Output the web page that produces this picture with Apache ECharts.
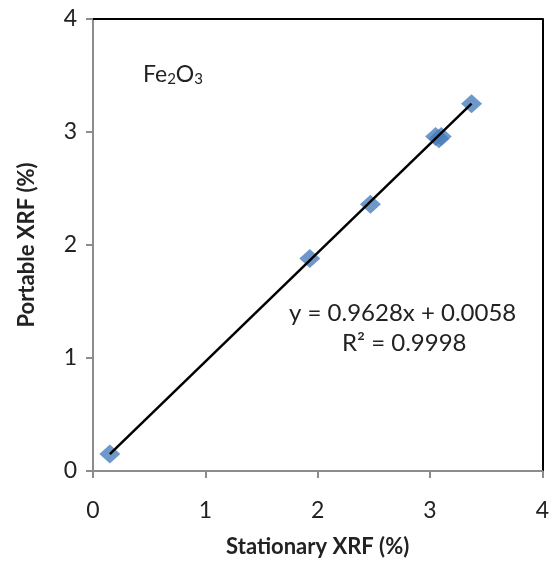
<!DOCTYPE html>
<html><head><meta charset="utf-8">
<script src="https://cdn.jsdelivr.net/npm/echarts@6/dist/echarts.min.js"></script>
<style>html,body{margin:0;padding:0;background:#fff}#c{width:552px;height:566px}</style>
</head><body><div id="c"></div>
<script>
const stationary = [0.15, 1.93, 2.47, 3.05, 3.10, 3.08, 3.37];
const portable   = [0.15, 1.88, 2.36, 2.96, 2.96, 2.94, 3.25];
const slope = 0.9628, intercept = 0.0058;
const trendX = [0.15, 3.37];
const xTicks = [0, 1, 2, 3, 4];
const yTicks = [0, 1, 2, 3, 4];

const font = 'Lato, "Open Sans", sans-serif';
const chart = echarts.init(document.getElementById('c'));
chart.setOption({
  animation: false,
  grid: {left: 93, right: 2, top: 19, bottom: 95},
  title: {
    text: '{n|Fe}{s|2}{n|O}{s|3}',
    left: 138, top: 58,
    textStyle: {fontWeight: 'normal', rich: {
      n: {fontFamily: font, fontSize: 23, fontWeight: 'normal', color: '#222'},
      s: {fontFamily: font, fontSize: 15, fontWeight: 'normal', color: '#222', verticalAlign: 'bottom', padding: [9,0,0,0]}
    }}
  },
  graphic: [
    {type: 'text', left: 289, top: 301, style: {text: 'y = 0.9628x + 0.0058', font: '24px ' + font, fill: '#222'}},
    {type: 'text', left: 342, top: 331, style: {text: 'R² = 0.9998', font: '24px ' + font, fill: '#222'}}
  ],
  xAxis: [{
    type: 'value', min: 0, max: 4, interval: 1,
    name: 'Stationary XRF (%)', nameLocation: 'middle', nameGap: 65,
    nameTextStyle: {fontFamily: font, fontSize: 22, fontWeight: 'bold', color: '#222'},
    axisLine: {onZero: false, lineStyle: {color: '#8c8c8c', width: 2}},
    axisTick: {show: true, length: 7, lineStyle: {color: '#8c8c8c', width: 2}},
    axisLabel: {fontFamily: font, fontSize: 23, color: '#222', margin: 28, showMaxLabel: true,
      formatter: v => xTicks.includes(v) ? String(v) : ''},
    splitLine: {show: false}
  }, {
    type: 'value', position: 'top', min: 0, max: 4,
    axisLine: {show: true, onZero: false, lineStyle: {color: '#000', width: 2}},
    axisTick: {show: false}, axisLabel: {show: false}, splitLine: {show: false}
  }],
  yAxis: [{
    type: 'value', min: 0, max: 4, interval: 1,
    name: 'Portable XRF (%)', nameLocation: 'middle', nameGap: 55,
    nameTextStyle: {fontFamily: font, fontSize: 22, fontWeight: 'bold', color: '#222'},
    axisLine: {show: true, onZero: false, lineStyle: {color: '#8c8c8c', width: 2}},
    axisTick: {show: true, length: 7, lineStyle: {color: '#8c8c8c', width: 2}},
    axisLabel: {fontFamily: font, fontSize: 23, color: '#222', margin: 16,
      formatter: v => yTicks.includes(v) ? String(v) : ''},
    splitLine: {show: false}
  }, {
    type: 'value', position: 'right', min: 0, max: 4,
    axisLine: {show: true, onZero: false, lineStyle: {color: '#000', width: 2}},
    axisTick: {show: false}, axisLabel: {show: false}, splitLine: {show: false}
  }],
  series: [{
    type: 'line', data: trendX.map(x => [x, slope * x + intercept]),
    symbol: 'none', lineStyle: {color: '#000', width: 2.5}, z: 3
  }, {
    type: 'scatter', data: stationary.map((x, i) => [x, portable[i]]),
    symbol: 'diamond', symbolSize: [21, 19],
    itemStyle: {color: '#4a7ebb'}, z: 2
  }]
});
</script></body></html>
